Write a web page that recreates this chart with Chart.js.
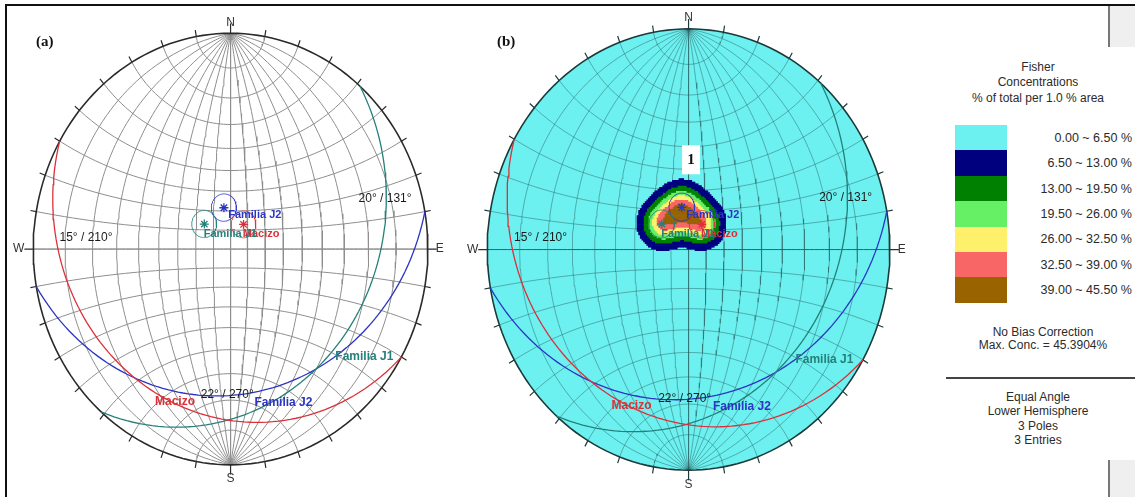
<!DOCTYPE html>
<html>
<head>
<meta charset="utf-8">
<title>Estereogramas</title>
<script src="https://cdn.jsdelivr.net/npm/chart.js@4.4.1/dist/chart.umd.min.js"></script>
<style>
  html, body { margin: 0; padding: 0; background: #fff; }
  body { width: 1135px; height: 497px; position: relative; overflow: hidden;
         font-family: "Liberation Sans", Arial, sans-serif; color: #2b2b2b; }
  .frame { position: absolute; left: 5px; top: 4px; width: 1130px; height: 495px;
           border-left: 2px solid #111; border-top: 2px solid #111; }
  canvas { position: absolute; }
  .tag { position: absolute; font: bold 15px "Liberation Serif", serif; color: #111; }
  .t { position: absolute; font-size: 12px; line-height: 14px; white-space: nowrap; }
  .c { text-align: center; width: 200px; }
  .box { position: absolute; left: 955px; width: 52px; }
  .gray { position: absolute; left: 1108px; width: 27px; background: #efefef; border-left: 2px solid #777; }
</style>
</head>
<body>
<div class="frame"></div>
<div class="gray" style="top:6px;height:41px"></div>
<div class="gray" style="top:460px;height:37px"></div>
<canvas id="netA" width="450" height="491" style="left:8px;top:6px"></canvas>
<canvas id="netB" width="458" height="491" style="left:462px;top:6px"></canvas>
<div class="tag" style="left:36px;top:33px">(a)</div>
<div class="tag" style="left:497px;top:33px">(b)</div>

<div class="t c" style="left:938px;top:60px">Fisher</div>
<div class="t c" style="left:938px;top:75px">Concentrations</div>
<div class="t c" style="left:938px;top:91px">% of total per 1.0 % area</div>
<div id="scale"></div>
<div class="t c" style="left:943px;top:325px">No Bias Correction</div>
<div class="t c" style="left:943px;top:338px" id="maxc"></div>
<div style="position:absolute;left:946px;top:377px;width:189px;height:0;border-top:2px solid #444"></div>
<div class="t c" style="left:938px;top:390px">Equal Angle</div>
<div class="t c" style="left:938px;top:404px">Lower Hemisphere</div>
<div class="t c" style="left:938px;top:419px">3 Poles</div>
<div class="t c" style="left:938px;top:433px">3 Entries</div>

<script>
// planes (dip / dip direction) as read from the great circles
var planeNames = ["Macizo", "Familia J1", "Familia J2"];
var planeDips = [15, 20, 22];
var planeDipDirs = [210, 131, 170];
var planeTags = ["15° / 210°", "20° / 131°", "22° / 270°"];

// Fisher concentration classes (% of total per 1.0 % area)
var concBins = [0, 6.5, 13, 19.5, 26, 32.5, 39, 45.5];
var maxConc = 45.3904;

// styles, kept apart from the values
var planeColors = ["#dc3038", "#25807a", "#2c34c4"];
var concColors = ["#6cf0f0", "#00007f", "#008000", "#66f066", "#fff06c", "#f86666", "#996400"];
var tagSpots = [[-0.867, 0.054], [0.649, 0.235], [-0.151, -0.674]];
var nameSpots = [[[0.062, 0.072], [-0.383, -0.706]],
                 [[-0.136, 0.072], [0.531, -0.498]],
                 [[-0.012, 0.158], [0.121, -0.710]]];

var DEG = Math.PI / 180;
var KAPPA = 58;

// legend panel
(function () {
  var html = "";
  for (var i = 0; i < concBins.length - 1; i++) {
    var top = 125 + i * 25.4;
    html += '<div class="box" style="top:' + top + 'px;height:25.4px;background:' + concColors[i] + '"></div>';
    html += '<div class="t" style="right:3px;top:' + (top + 5.7) + 'px;font-size:12.5px">' +
      concBins[i].toFixed(2) + ' ~ ' + concBins[i + 1].toFixed(2) + ' %</div>';
  }
  document.getElementById("scale").innerHTML = html;
  document.getElementById("maxc").textContent = "Max. Conc. = " + maxConc.toFixed(4) + "%";
})();

function lineVec(trend, plunge) {
  return [Math.cos(plunge * DEG) * Math.sin(trend * DEG),
          Math.cos(plunge * DEG) * Math.cos(trend * DEG),
          -Math.sin(plunge * DEG)];
}
// equal angle, lower hemisphere
function proj(v) {
  var k = 1 - v[2];
  return { x: v[0] / k, y: v[1] / k };
}
function cross(a, b) {
  return [a[1] * b[2] - a[2] * b[1], a[2] * b[0] - a[0] * b[2], a[0] * b[1] - a[1] * b[0]];
}
function unit(a) {
  var n = Math.hypot(a[0], a[1], a[2]);
  return [a[0] / n, a[1] / n, a[2] / n];
}
function greatCircle(dipDir, dip) {
  var s = lineVec(dipDir - 90, 0), d = lineVec(dipDir, dip), pts = [];
  for (var t = 0; t <= 180; t += 2) {
    var c = Math.cos(t * DEG), sn = Math.sin(t * DEG);
    pts.push(proj([c * s[0] + sn * d[0], c * s[1] + sn * d[1], c * s[2] + sn * d[2]]));
  }
  return pts;
}
function smallCircle(axis, alpha, b1, b2, from, to) {
  var pts = [], ca = Math.cos(alpha * DEG), sa = Math.sin(alpha * DEG);
  for (var f = from; f <= to; f += 3) {
    var c = Math.cos(f * DEG) * sa, s = Math.sin(f * DEG) * sa, v = [];
    for (var k = 0; k < 3; k++) v.push(ca * axis[k] + c * b1[k] + s * b2[k]);
    pts.push(proj(v));
  }
  return pts;
}
function poleOf(i) {
  return lineVec(planeDipDirs[i] + 180, 90 - planeDips[i]);
}

function gridSets(color) {
  var sets = [];
  function add(pts, col, w) {
    sets.push({ data: pts, showLine: true, borderColor: col, borderWidth: w, pointRadius: 0, order: 5 });
  }
  for (var d = 10; d < 90; d += 10) {
    add(greatCircle(90, d), color, 1);
    add(greatCircle(270, d), color, 1);
    add(smallCircle([0, 1, 0], d, [1, 0, 0], [0, 0, -1], 0, 180), color, 1);
    add(smallCircle([0, -1, 0], d, [1, 0, 0], [0, 0, -1], 0, 180), color, 1);
  }
  add(greatCircle(90, 90), color, 1);
  add(greatCircle(0, 90), "#555", 1);
  return sets;
}

function rimSets(color) {
  var rim = [], ticks = [];
  for (var a = 0; a <= 360; a += 2) rim.push({ x: Math.sin(a * DEG), y: Math.cos(a * DEG) });
  for (var t = 0; t < 360; t += 10) {
    var len = t % 90 === 0 ? 1.045 : 1.03;
    ticks.push({ x: Math.sin(t * DEG), y: Math.cos(t * DEG) });
    ticks.push({ x: Math.sin(t * DEG) * len, y: Math.cos(t * DEG) * len });
    ticks.push({ x: null, y: null });
  }
  return [
    { data: rim, showLine: true, borderColor: color, borderWidth: 1.6, pointRadius: 0, order: 3 },
    { data: ticks, showLine: true, spanGaps: false, borderColor: color, borderWidth: 1.2, pointRadius: 0, order: 3 }
  ];
}

function planeSets() {
  var sets = [];
  for (var i = 0; i < planeNames.length; i++) {
    sets.push({ label: planeNames[i], data: greatCircle(planeDipDirs[i], planeDips[i]), showLine: true,
      borderColor: planeColors[i], borderWidth: 1.3, pointRadius: 0, order: 2 });
    var p = poleOf(i), b1 = unit(cross(p, [0, 0, 1])), b2 = cross(p, b1);
    sets.push({ data: smallCircle(p, 7, b1, b2, 0, 360), showLine: true,
      borderColor: planeColors[i], borderWidth: 0.8, pointRadius: 0, order: 2 });
    sets.push({ data: [proj(p)], pointStyle: "star", pointRadius: 4.5, borderWidth: 1.3,
      borderColor: planeColors[i], backgroundColor: planeColors[i], order: 1 });
  }
  return sets;
}

function densitySets() {
  var poles = planeNames.map(function (n, i) { return poleOf(i); });
  var cells = [], peak = 0, step = 0.008;
  for (var u = -0.5; u <= 0.45; u += step) {
    for (var v = -0.25; v <= 0.55; v += step) {
      var r2 = u * u + v * v, w = [2 * u / (1 + r2), 2 * v / (1 + r2), -(1 - r2) / (1 + r2)], s = 0;
      poles.forEach(function (p) {
        s += Math.exp(KAPPA * (w[0] * p[0] + w[1] * p[1] + w[2] * p[2] - 1));
      });
      cells.push({ x: u, y: v, s: s });
      if (s > peak) peak = s;
    }
  }
  var groups = concColors.map(function () { return []; });
  cells.forEach(function (c) {
    var val = c.s / peak * maxConc, lev = 0;
    for (var i = 1; i < concBins.length - 1; i++) if (val >= concBins[i]) lev = i;
    if (lev > 0) groups[lev].push({ x: c.x, y: c.y });
  });
  var sets = [];
  for (var g = 1; g < groups.length; g++) {
    sets.push({ data: groups[g], pointStyle: "rect", pointRadius: 1.6, borderWidth: 0,
      backgroundColor: concColors[g], order: 4 });
  }
  return sets;
}

var netDeco = {
  id: "netDeco",
  beforeDatasetsDraw: function (chart, args, o) {
    if (!o.face) return;
    var xs = chart.scales.x, ys = chart.scales.y, ctx = chart.ctx;
    var cx = xs.getPixelForValue(0), cy = ys.getPixelForValue(0);
    ctx.save();
    ctx.beginPath();
    ctx.ellipse(cx, cy, xs.getPixelForValue(1) - cx, cy - ys.getPixelForValue(1), 0, 0, 2 * Math.PI);
    ctx.fillStyle = o.face;
    ctx.fill();
    ctx.restore();
  },
  afterDatasetsDraw: function (chart, args, o) {
    var xs = chart.scales.x, ys = chart.scales.y, ctx = chart.ctx;
    function px(u) { return xs.getPixelForValue(u); }
    function py(v) { return ys.getPixelForValue(v); }
    ctx.save();
    ctx.textBaseline = "middle";
    ctx.font = '12px "Liberation Sans", Arial, sans-serif';
    ctx.fillStyle = "#333";
    ctx.textAlign = "center";
    ctx.fillText("N", px(0), py(1) - 11);
    ctx.fillText("S", px(0), py(-1) + 14);
    ctx.textAlign = "left";
    ctx.fillText("E", px(1) + 8, py(0));
    ctx.textAlign = "right";
    ctx.fillText("W", px(-1) - 9, py(0));
    ctx.textAlign = "left";
    ctx.fillStyle = "#1a1a1a";
    for (var i = 0; i < planeTags.length; i++) {
      ctx.fillText(planeTags[i], px(tagSpots[i][0]), py(tagSpots[i][1]));
    }
    for (var j = 0; j < planeNames.length; j++) {
      ctx.fillStyle = planeColors[j];
      nameSpots[j].forEach(function (sp, k) {
        ctx.font = "bold " + (k === 0 ? 11 : 12) + 'px "Liberation Sans", Arial, sans-serif';
        ctx.fillText(planeNames[j], px(sp[0]), py(sp[1]));
      });
    }
    if (o.setLabel) {
      var lx = px(0.012), ly = py(0.409);
      ctx.fillStyle = "#fff";
      ctx.fillRect(lx - 9, ly - 14, 18, 29);
      ctx.fillStyle = "#111";
      ctx.textAlign = "center";
      ctx.font = 'bold 15px "Liberation Serif", serif';
      ctx.fillText(o.setLabel, lx, ly + 1);
    }
    ctx.restore();
  }
};

function buildNet(id, geo, box, datasets, deco) {
  return new Chart(document.getElementById(id).getContext("2d"), {
    type: "scatter",
    data: { datasets: datasets },
    options: {
      responsive: false,
      animation: false,
      devicePixelRatio: 1,
      events: [],
      layout: { padding: 0 },
      plugins: { legend: { display: false }, tooltip: { enabled: false }, netDeco: deco },
      scales: {
        x: { type: "linear", display: false, bounds: "data",
             min: (box.left - geo.cx) / geo.rx, max: (box.left + box.width - geo.cx) / geo.rx },
        y: { type: "linear", display: false, bounds: "data",
             min: (geo.cy - box.top - box.height) / geo.ry, max: (geo.cy - box.top) / geo.ry }
      }
    },
    plugins: [netDeco]
  });
}

document.addEventListener("DOMContentLoaded", function () {
  buildNet("netA", { cx: 230.5, cy: 249, rx: 202.5, ry: 221 },
    { left: 8, top: 6, width: 450, height: 491 },
    gridSets("#8e8e8e").concat(rimSets("#2a2a2a"), planeSets()),
    {});
  buildNet("netB", { cx: 688.5, cy: 249.5, rx: 206.5, ry: 226 },
    { left: 462, top: 6, width: 458, height: 491 },
    gridSets("rgba(40,90,90,0.45)").concat(densitySets(), rimSets("#1c3a3a"), planeSets()),
    { face: concColors[0], setLabel: "1" });
});
</script>
</body>
</html>
